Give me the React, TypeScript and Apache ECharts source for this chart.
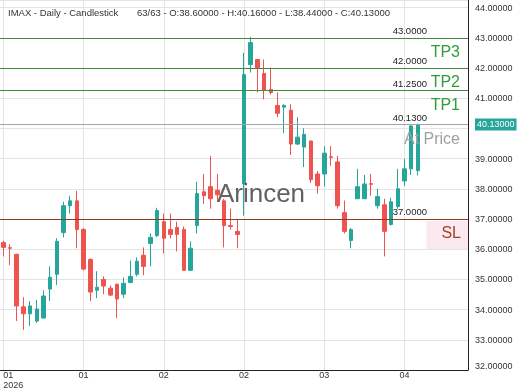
import React, { useEffect, useRef } from "react";
import * as echarts from "echarts";

const opens = [36.22, 36.05, 35.83, 34.09, 33.86, 33.62, 33.72, 34.68, 35.17, 36.55, 37.44, 37.6, 36.65, 35.66, 34.64, 35.0, 34.71, 34.84, 34.51, 34.9, 35.17, 35.8, 36.19, 36.45, 36.91, 36.65, 36.72, 36.65, 35.3, 36.78, 37.9, 38.07, 37.95, 37.6, 36.78, 36.59, 38.16, 42.11, 42.28, 41.82, 41.29, 40.76, 40.7, 40.6, 39.48, 39.38, 39.58, 38.49, 38.49, 39.06, 38.89, 37.21, 36.29, 37.67, 37.67, 38.17, 37.44, 37.47, 36.82, 37.41, 38.26, 38.66, 38.6];
const closes = [36.06, 36.03, 34.12, 33.86, 34.12, 34.02, 34.45, 35.07, 36.26, 37.44, 37.6, 36.65, 35.34, 34.58, 34.74, 34.78, 34.48, 34.35, 34.87, 35.1, 35.6, 35.43, 36.39, 37.28, 36.36, 36.49, 36.49, 35.3, 36.03, 37.84, 37.77, 37.67, 37.8, 36.78, 36.75, 36.49, 41.78, 42.84, 42.01, 41.26, 41.19, 40.5, 40.76, 39.48, 39.71, 39.8, 38.3, 38.1, 39.18, 39.04, 37.44, 36.59, 36.65, 38.07, 38.16, 38.15, 37.74, 36.59, 37.57, 38.0, 38.66, 40.08, 40.13];
const lows = [35.76, 35.47, 33.62, 33.33, 33.46, 33.56, 33.7, 34.28, 34.81, 36.39, 37.18, 36.03, 35.3, 34.28, 34.38, 34.51, 34.45, 33.72, 34.38, 34.87, 35.1, 35.14, 35.43, 36.4, 35.86, 36.36, 35.93, 35.28, 35.28, 36.52, 37.5, 37.34, 37.57, 36.06, 36.65, 36.03, 37.11, 41.85, 41.19, 40.96, 41.12, 40.37, 39.84, 39.12, 39.45, 38.72, 38.2, 37.84, 38.07, 38.76, 37.34, 36.52, 36.03, 37.67, 37.67, 37.77, 37.34, 35.76, 36.78, 37.34, 38.1, 38.46, 38.44];
const highs = [36.28, 36.16, 35.85, 34.41, 34.28, 34.32, 34.64, 35.43, 36.36, 37.57, 37.77, 37.93, 36.7, 35.7, 35.27, 35.1, 34.8, 34.86, 35.07, 35.63, 35.73, 36.06, 36.52, 37.37, 37.18, 37.18, 36.91, 36.75, 36.26, 38.23, 38.49, 39.09, 38.49, 37.67, 37.34, 37.0, 42.5, 43.03, 42.3, 42.28, 42.01, 41.19, 40.8, 40.8, 40.37, 40.0, 39.6, 38.59, 39.41, 39.41, 39.09, 37.61, 36.7, 38.66, 38.46, 38.49, 38.0, 37.67, 37.7, 38.66, 38.99, 40.1, 40.16];

const slotCount = 70;
const tickEvery = 12;
const tickLabels = ["01\n2026", "01", "02", "02", "03", "04"];

const levelValues = [43, 42, 41.25, 40.13, 37];
const levelNames = ["TP3", "TP2", "TP1", "At Price", "SL"];
const levelKinds = ["tp", "tp", "tp", "price", "sl"];
const lastClose = 40.13;

const titleMain = "IMAX - Daily - Candlestick";
const titleInfo = "63/63 - O:38.60000 - H:40.16000 - L:38.44000 - C:40.13000";
const watermark = "Arincen";

const FONT = '"Liberation Sans", Arial, sans-serif';
const UP = "#26a69a";
const DOWN = "#ef5350";
const CLEAR = "rgba(0,0,0,0)";

const lineColor: Record<string, string> = { tp: "#3d8b3d", price: "#a6a6a6", sl: "#8b3e22" };
const nameColor: Record<string, string> = { tp: "#2f9e3a", price: "#a0a0a0", sl: "#a0441f" };

export default function App() {
  const ref = useRef<HTMLDivElement>(null);
  useEffect(() => {
    if (!ref.current) return;
    const chart = echarts.init(ref.current, null, { renderer: "svg" });
    const categories = Array.from({ length: slotCount }, (_, i) => String(i + 1));
    const candles = opens.map((o, i) => [o, closes[i], lows[i], highs[i]]);

    const valueLines = levelValues.map((v, i) => ({
      yAxis: v,
      lineStyle: { color: lineColor[levelKinds[i]], width: 1, type: "solid" },
      label: {
        show: true,
        position: "insideEndTop",
        distance: [41, 2],
        formatter: v.toFixed(4),
        color: "#222",
        fontSize: 9.5,
      },
    }));
    const nameLines = levelValues.map((v, i) => ({
      yAxis: v,
      lineStyle: { color: CLEAR, width: 1 },
      label: {
        show: true,
        opacity: 1,
        position: "insideEndBottom",
        distance: levelKinds[i] === "sl" ? [0, 2] : [8, 6],
        formatter: levelNames[i],
        color: nameColor[levelKinds[i]],
        fontSize: 16,
        ...(levelKinds[i] === "sl"
          ? { backgroundColor: "rgba(252,230,238,0.9)", padding: [4, 7, 8, 15] }
          : {}),
      },
    }));
    const priceTag = {
      yAxis: lastClose,
      lineStyle: { color: CLEAR, width: 1 },
      label: {
        show: true,
        opacity: 1,
        position: "end",
        distance: 7,
        formatter: lastClose.toFixed(5),
        color: "#fff",
        fontSize: 9,
        backgroundColor: UP,
        padding: [2, 2, 1, 2],
      },
    };

    chart.setOption({
      animation: false,
      textStyle: { fontFamily: FONT },
      grid: { left: 0, right: 52, top: 0, bottom: 18 },
      xAxis: {
        type: "category",
        data: categories,
        boundaryGap: true,
        axisLine: { show: true, lineStyle: { color: "#222", width: 1 } },
        axisTick: { show: false },
        axisLabel: {
          interval: tickEvery - 1,
          formatter: (_v: string, i: number) => tickLabels[i / tickEvery] ?? "",
          fontSize: 9,
          color: "#333",
          margin: 0,
          lineHeight: 10,
          alignMinLabel: "left",
        },
        splitLine: {
          show: true,
          interval: tickEvery - 1,
          alignWithLabel: true,
          lineStyle: { color: "#e4e4e4", width: 1 },
        },
      },
      yAxis: {
        type: "value",
        position: "right",
        min: 32,
        max: 44.25,
        interval: 1,
        axisLine: { show: true, lineStyle: { color: "#222", width: 1 } },
        axisTick: { show: false },
        axisLabel: {
          fontSize: 9,
          color: "#333",
          margin: 7,
          showMaxLabel: false,
          verticalAlignMinLabel: "bottom",
          formatter: (v: number) => (Math.abs(v - lastClose) < 0.5 ? "" : v.toFixed(5)),
        },
        splitLine: { show: true, lineStyle: { color: "#e4e4e4", width: 1 } },
      },
      graphic: [
        {
          type: "text",
          x: 8,
          y: 12,
          z: 100,
          style: { text: titleMain, font: `9.5px ${FONT}`, fill: "#333", textVerticalAlign: "middle" },
        },
        {
          type: "text",
          x: 137,
          y: 12,
          z: 100,
          style: { text: titleInfo, font: `9.5px ${FONT}`, fill: "#333", textVerticalAlign: "middle" },
        },
        {
          type: "text",
          x: 261,
          y: 193,
          z: 100,
          style: {
            text: watermark,
            font: `26px ${FONT}`,
            fill: "rgba(70,70,70,0.85)",
            textAlign: "center",
            textVerticalAlign: "middle",
          },
        },
      ],
      series: [
        {
          type: "candlestick",
          data: candles,
          barWidth: "60%",
          itemStyle: {
            color: UP,
            color0: DOWN,
            borderColor: UP,
            borderColor0: DOWN,
            borderWidth: 1,
          },
          markLine: {
            symbol: "none",
            silent: true,
            animation: false,
            data: [...valueLines, ...nameLines, priceTag],
          },
        },
      ],
    });
    return () => chart.dispose();
  }, []);
  return <div ref={ref} style={{ position: "fixed", left: 0, top: 0, width: 520, height: 390 }} />;
}
